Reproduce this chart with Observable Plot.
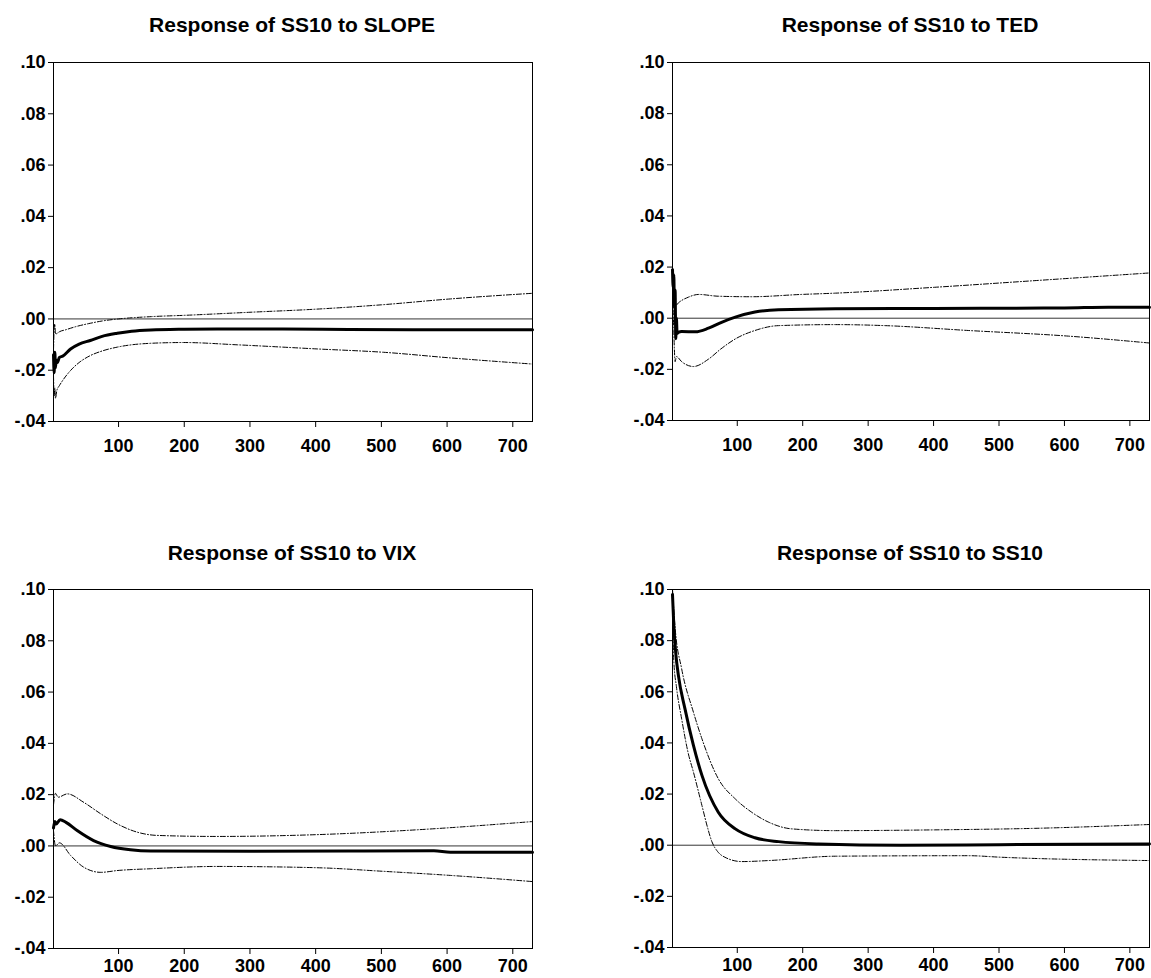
<!DOCTYPE html>
<html>
<head>
<meta charset="utf-8">
<script src="https://cdn.jsdelivr.net/npm/d3@7"></script>
<script src="https://cdn.jsdelivr.net/npm/@observablehq/plot@0.6"></script>
<style>
  html, body { margin: 0; padding: 0; background: #fff; }
  #page { position: relative; width: 1151px; height: 978px; background: #fff; overflow: hidden; }
  .title { position: absolute; width: 440px; text-align: center; font-family: "Liberation Sans", Arial, sans-serif; font-weight: bold; font-size: 21px; line-height: 21px; color: #000; white-space: nowrap; }
  .panel { position: absolute; }
</style>
</head>
<body>
<div id="page"></div>
<script>
// ---- Data ----
const xTicks = [100, 200, 300, 400, 500, 600, 700];
const yTicks = [-0.04, -0.02, 0, 0.02, 0.04, 0.06, 0.08, 0.10];
const titles = ["Response of SS10 to SLOPE", "Response of SS10 to TED", "Response of SS10 to VIX", "Response of SS10 to SS10"];

// [period, value]
const slopeMean = [[1,-0.014],[2,-0.021],[3,-0.013],[4,-0.019],[5,-0.016],[7,-0.017],[10,-0.015],[15,-0.0145],[27,-0.0117],[40,-0.0098],[57,-0.0084],[75,-0.0068],[98,-0.0056],[120,-0.0048],[149,-0.0043],[200,-0.004],[250,-0.0039],[350,-0.0039],[450,-0.0041],[550,-0.0042],[650,-0.0042],[730,-0.0042]];
const slopeUpper = [[1,-0.012],[2,-0.004],[3,-0.002],[4,-0.006],[6,-0.0057],[10,-0.005],[20,-0.0042],[35,-0.003],[55,-0.0018],[75,-0.0008],[100,0.0],[150,0.0009],[200,0.0014],[300,0.0026],[400,0.0038],[500,0.0055],[605,0.0078],[730,0.010]];
const slopeLower = [[1,-0.022],[2,-0.030],[3,-0.027],[4,-0.031],[6,-0.028],[10,-0.026],[15,-0.024],[27,-0.0201],[40,-0.017],[57,-0.0143],[75,-0.0125],[98,-0.011],[149,-0.0095],[199,-0.0092],[281,-0.0101],[402,-0.0117],[503,-0.013],[605,-0.0152],[730,-0.0176]];

const tedMean = [[1,0.019],[2,0.012],[3,0.017],[4,0.004],[5,0.011],[6,-0.008],[7,0.0],[8,-0.006],[10,-0.0055],[15,-0.0052],[36,-0.0053],[56,-0.0039],[76,-0.0016],[97,0.0004],[127,0.0024],[163,0.0033],[250,0.0037],[400,0.0038],[504,0.0039],[600,0.004],[667,0.0043],[730,0.0043]];
const tedUpper = [[1,0.020],[2,0.014],[3,0.016],[4,0.008],[6,0.005],[10,0.006],[25,0.0082],[41,0.0093],[71,0.0086],[122,0.0084],[198,0.0093],[250,0.0098],[402,0.0121],[555,0.0147],[730,0.0177]];
const tedLower = [[1,0.015],[2,0.004],[3,-0.005],[5,-0.017],[7,-0.015],[15,-0.017],[33,-0.0189],[56,-0.016],[75,-0.012],[97,-0.0081],[127,-0.0048],[163,-0.0029],[250,-0.0025],[326,-0.0029],[453,-0.0048],[606,-0.007],[730,-0.0097]];

const vixMean = [[1,0.007],[3,0.0095],[5,0.0086],[11,0.0102],[20,0.0092],[37,0.006],[62,0.0021],[88,-0.0002],[118,-0.0015],[149,-0.002],[300,-0.0021],[450,-0.002],[580,-0.0019],[605,-0.0025],[730,-0.0025]];
const vixUpper = [[1,0.016],[4,0.0205],[8,0.019],[22,0.0203],[47,0.017],[73,0.0125],[98,0.0086],[128,0.0054],[159,0.0041],[250,0.0037],[402,0.0044],[555,0.0063],[730,0.0095]];
const vixLower = [[1,0.006],[4,0.0],[10,0.0012],[27,-0.0037],[47,-0.0083],[73,-0.0103],[98,-0.0096],[149,-0.0089],[250,-0.008],[402,-0.0085],[503,-0.0099],[605,-0.0115],[730,-0.0139]];

const ss10Mean = [[1,0.098],[3,0.086],[6,0.075],[10,0.0664],[20,0.0534],[33,0.039],[46,0.0273],[71,0.0129],[97,0.0064],[127,0.0029],[163,0.0014],[224,0.0005],[350,0.0],[500,0.0002],[730,0.0005]];
const ss10Upper = [[1,0.100],[5,0.085],[15,0.069],[33,0.052],[46,0.0416],[71,0.026],[97,0.0181],[122,0.0129],[148,0.009],[183,0.0064],[250,0.0057],[402,0.006],[555,0.0066],[730,0.0081]];
const ss10Lower = [[1,0.094],[3,0.072],[7,0.062],[15,0.0494],[25,0.036],[33,0.0286],[46,0.0155],[55,0.0065],[61,0.0015],[70,-0.0025],[81,-0.0047],[107,-0.0064],[148,-0.006],[250,-0.0043],[453,-0.0041],[503,-0.0047],[730,-0.006]];

// ---- Drawing ----
const fmtY = d => (d < 0 ? "-" : "") + Math.abs(d).toFixed(2).slice(1);
const toRows = a => a.map(([t, v]) => ({t, v}));

function panel(mean, upper, lower, layout) {
  const band = {x: "t", y: "v", stroke: "black", strokeWidth: 1, strokeDasharray: "5,2,1,2", curve: "monotone-x"};
  return Plot.plot({
    width: layout.width, height: layout.height,
    marginLeft: layout.ml, marginRight: layout.mr, marginTop: layout.mt, marginBottom: layout.mb,
    x: {domain: [1, 730], label: null},
    y: {domain: [-0.04, 0.10], label: null},
    style: {fontFamily: "'Liberation Sans', Arial, sans-serif", fontSize: "18px", fontWeight: "bold", color: "black", background: "white"},
    marks: [
      Plot.ruleY([0], {stroke: "black", strokeWidth: 0.8}),
      Plot.line(toRows(upper), band),
      Plot.line(toRows(lower), band),
      Plot.line(toRows(mean), {x: "t", y: "v", stroke: "black", strokeWidth: 3, curve: "monotone-x"}),
      Plot.frame({stroke: "black", strokeWidth: 1}),
      Plot.axisY({ticks: yTicks, tickFormat: fmtY, tickSize: 5, tickPadding: 3, label: null}),
      Plot.axisX({ticks: xTicks, tickFormat: d => String(d), tickSize: 6, tickPadding: layout.xpad, label: null})
    ]
  });
}

const page = document.getElementById("page");
const specs = [
  {mean: slopeMean, upper: slopeUpper, lower: slopeLower, left: 0,   top: 40,  width: 552, height: 421, ml: 53, mr: 20, mt: 22, mb: 40, xpad: 12, cx: 292, ty: 14},
  {mean: tedMean,   upper: tedUpper,   lower: tedLower,   left: 580, top: 40,  width: 571, height: 421, ml: 92, mr: 2,  mt: 22, mb: 41, xpad: 12, cx: 910, ty: 14},
  {mean: vixMean,   upper: vixUpper,   lower: vixLower,   left: 0,   top: 567, width: 552, height: 411, ml: 53, mr: 20, mt: 22, mb: 30, xpad: 5,  cx: 292, ty: 542},
  {mean: ss10Mean,  upper: ss10Upper,  lower: ss10Lower,  left: 580, top: 567, width: 571, height: 411, ml: 92, mr: 2,  mt: 22, mb: 31, xpad: 5,  cx: 910, ty: 542}
];

specs.forEach((s, i) => {
  const t = document.createElement("div");
  t.className = "title";
  t.textContent = titles[i];
  t.style.left = (s.cx - 220) + "px";
  t.style.top = s.ty + "px";
  page.appendChild(t);

  const holder = document.createElement("div");
  holder.className = "panel";
  holder.style.left = s.left + "px";
  holder.style.top = s.top + "px";
  holder.appendChild(panel(s.mean, s.upper, s.lower, s));
  page.appendChild(holder);
});
</script>
</body>
</html>
